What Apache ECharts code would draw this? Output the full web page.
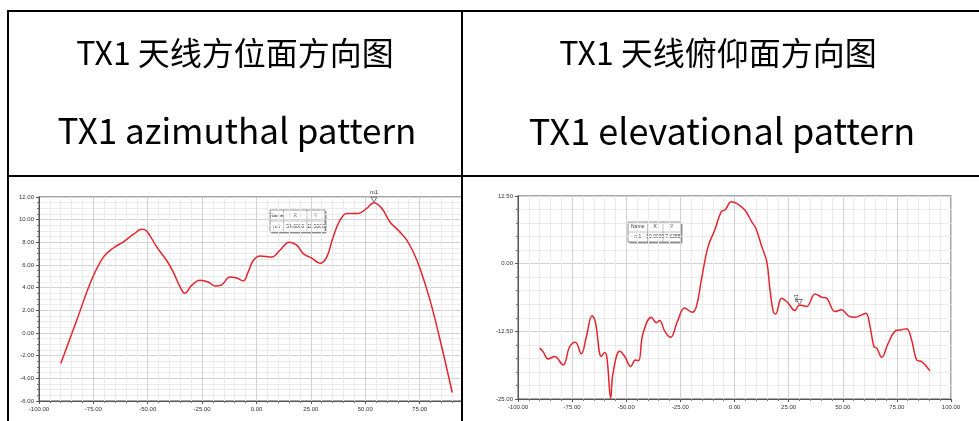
<!DOCTYPE html>
<html><head><meta charset="utf-8">
<script src="https://cdn.jsdelivr.net/npm/echarts@6/dist/echarts.min.js"></script>
<style>html,body{margin:0;padding:0;background:#fff}#c{width:979px;height:421px}</style>
</head><body><div id="c"></div>
<script>
// Header texts
const titlesCN = ['TX1 天线方位面方向图', 'TX1 天线俯仰面方向图'];
const titlesEN = ['TX1 azimuthal pattern', 'TX1 elevational pattern'];

// Azimuthal pattern (x: angle, y: gain)
const azX = [-90, -82.7, -75.8, -70.4, -65.8, -61.2, -56.6, -52.8, -50.5, -45.9, -41.3, -38.3, -35.2, -32.9, -29.8, -26, -22.2, -19.1, -16, -12.2, -9.1, -6.1, -3.8, -1.5, 1.6, 7.0, 10.8, 15.1, 18.5, 21.5, 25.4, 29.2, 32.3, 35.3, 38.4, 41.5, 46.8, 50.7, 54, 57.6, 61.4, 66, 69.1, 72.1, 75.2, 79.8, 84.4, 90];
const azY = [-2.7, 1.1, 4.7, 6.7, 7.5, 8.05, 8.7, 9.15, 9.0, 7.6, 6.4, 5.4, 4.1, 3.5, 4.2, 4.65, 4.5, 4.15, 4.25, 4.95, 4.85, 4.6, 5.4, 6.4, 6.8, 6.7, 7.3, 8.0, 7.75, 7.0, 6.6, 6.15, 6.7, 8.5, 9.95, 10.55, 10.55, 11.0, 11.5, 11.0, 9.8, 8.9, 8.2, 7.15, 5.7, 2.9, -0.6, -5.25];

// Elevational pattern
const elX = [-90, -88.5, -86.1, -83.1, -79.2, -76.1, -73.5, -70.8, -68.4, -65.8, -64.3, -61.5, -60, -58.9, -57.2, -56.1, -53, -50.7, -47.9, -45.8, -44.3, -42.3, -38.4, -36.1, -34.6, -32.2, -29.5, -26.4, -23, -19.6, -17.6, -15.3, -12.2, -9.1, -6.1, -4.2, -1.5, 1, 4.8, 7.9, 9.9, 12.6, 14.9, 16.4, 17.9, 19, 21.8, 24.8, 27.9, 30, 33.3, 37.2, 40.3, 42.6, 46.4, 49.5, 52.6, 55.7, 58.8, 60.7, 62.6, 64.4, 65.7, 68, 71, 74.6, 77.2, 79.5, 81.8, 84.2, 86.5, 90.3];
const elY = [-15.6, -16.2, -17.6, -17.15, -18.7, -15.3, -14.5, -16.65, -13.45, -9.6, -10.7, -17.15, -16.4, -17.45, -24.8, -20.2, -16.2, -17.15, -19.0, -17.8, -17.9, -12.96, -9.9, -10.9, -10.5, -12.5, -13.6, -10.7, -8.2, -8.96, -7.9, -3.0, 3.15, 6.23, 9.6, 10.0, 11.45, 11.15, 9.9, 7.76, 6.5, 3.15, 0.37, -4.85, -8.85, -9.3, -6.4, -7.3, -8.66, -7.63, -7.9, -5.6, -6.2, -6.4, -8.85, -8.53, -9.64, -9.9, -9.46, -9.15, -11.6, -15.3, -15.6, -17.3, -14.7, -12.35, -12.2, -12.0, -14.1, -17.8, -18.1, -19.8];

// Markers
const markerName = ['m1', 'm1'];
const markerX = [54.0, 30.0];
const markerY = [11.5, -7.6255];

function zip(a, b) { return a.map((v, i) => [v, b[i]]); }

const chart = echarts.init(document.getElementById('c'), null, {renderer: 'canvas'});

const lblFont = {fontSize: 6, color: '#333', fontFamily: 'Liberation Sans'};
function xAx(gi, max) {
  return {
    type: 'value', gridIndex: gi, min: -100, max: max, interval: 25,
    axisLine: {show: true, onZero: false, lineStyle: {color: '#555', width: 1}},
    axisTick: {show: true, length: 3, lineStyle: {color: '#555'}},
    minorTick: {show: true, splitNumber: 5, length: 2, lineStyle: {color: '#777'}},
    axisLabel: Object.assign({margin: 5, showMaxLabel: max === 100, formatter: v => v.toFixed(2)}, lblFont),
    splitLine: {show: true, lineStyle: {color: '#d2d2d2', width: 1}},
    minorSplitLine: {show: true, lineStyle: {color: '#ebebeb', width: 1}}
  };
}
function yAx(gi, min, max, interval, minorN) {
  return {
    type: 'value', gridIndex: gi, min: min, max: max, interval: interval,
    axisLine: {show: true, onZero: false, lineStyle: {color: '#555', width: 1}},
    axisTick: {show: true, length: 3, lineStyle: {color: '#555'}},
    minorTick: {show: true, splitNumber: minorN, length: 2, lineStyle: {color: '#777'}},
    axisLabel: Object.assign({margin: 5, formatter: v => v.toFixed(2)}, lblFont),
    splitLine: {show: true, lineStyle: {color: '#d2d2d2', width: 1}},
    minorSplitLine: {show: true, lineStyle: {color: '#ebebeb', width: 1}}
  };
}

function markPt(i, rotate) {
  return {
    symbol: 'triangle', symbolRotate: 180, symbolSize: [6, 5], symbolOffset: [0, -3],
    itemStyle: {color: '#fff', borderColor: '#555', borderWidth: 0.8},
    label: {show: true, formatter: markerName[i], position: 'top', distance: 1, fontSize: 6,
      color: '#333', fontFamily: 'Liberation Sans', rotate: rotate},
    data: [{coord: [markerX[i], markerY[i]]}]
  };
}

function markerTable(left, top, colW, rowH, i) {
  const rows = [['Name', 'X', 'Y'], [markerName[i], markerX[i].toFixed(4), markerY[i].toFixed(4)]];
  const children = [];
  const W = colW.reduce((a, b) => a + b, 0);
  children.push({type: 'rect', shape: {x: left + 1.5, y: top + 1.5, width: W, height: rowH * 2},
    style: {fill: '#9a9a9a'}});
  children.push({type: 'rect', shape: {x: left, y: top, width: W, height: rowH * 2},
    style: {fill: '#fff', stroke: '#777', lineWidth: 0.8}});
  children.push({type: 'line', shape: {x1: left, y1: top + rowH, x2: left + W, y2: top + rowH},
    style: {stroke: '#999', lineWidth: 0.6}});
  let cx = left;
  colW.forEach((w, c) => {
    if (c > 0) children.push({type: 'line', shape: {x1: cx, y1: top, x2: cx, y2: top + rowH * 2},
      style: {stroke: '#999', lineWidth: 0.6}});
    rows.forEach((r, ri) => {
      children.push({type: 'text', style: {text: r[c], x: cx + w / 2, y: top + rowH * ri + rowH / 2,
        align: 'center', verticalAlign: 'middle', fontSize: 5, fill: '#333', fontFamily: 'Liberation Sans Narrow, Liberation Sans'}});
    });
    cx += w;
  });
  return {type: 'group', z: 50, children: children};
}

const graphics = [];
// header texts
[235, 718].forEach((cx, i) => {
  graphics.push({type: 'text', z: 60, style: {text: titlesCN[i], x: cx, y: 53, align: 'center',
    verticalAlign: 'middle', fontSize: 32, fill: '#000', fontFamily: 'Noto Sans CJK SC'}});
  graphics.push({type: 'text', z: 60, style: {text: titlesEN[i], x: cx + (i ? 4 : 2), y: 131, align: 'center',
    verticalAlign: 'middle', fontSize: i ? 36 : 35, fill: '#000', fontFamily: 'Noto Sans CJK SC'}});
});
// table borders
const B = '#000';
graphics.push({type: 'rect', z: 70, shape: {x: 7, y: 10, width: 972, height: 2}, style: {fill: B}});
graphics.push({type: 'rect', z: 70, shape: {x: 7, y: 10, width: 2, height: 411}, style: {fill: B}});
graphics.push({type: 'rect', z: 70, shape: {x: 461, y: 10, width: 2, height: 411}, style: {fill: B}});
graphics.push({type: 'rect', z: 70, shape: {x: 7, y: 175, width: 972, height: 2}, style: {fill: B}});
// marker tables
graphics.push(markerTable(270, 210, [13.5, 23.5, 18], 11, 0));
graphics.push(markerTable(628, 222, [19.5, 15.5, 18], 10, 1));

chart.setOption({
  animation: false,
  backgroundColor: '#fff',
  grid: [
    {left: 39, top: 197, width: 423, height: 204, show: true, borderColor: '#8a8a8a', borderWidth: 1.5},
    {left: 518, top: 196, width: 433, height: 203, show: true, borderColor: '#8a8a8a', borderWidth: 1.5}
  ],
  xAxis: [xAx(0, 94.5), xAx(1, 100)],
  yAxis: [yAx(0, -6, 12, 2, 4), yAx(1, -25, 12.5, 12.5, 5)],
  series: [
    {type: 'line', xAxisIndex: 0, yAxisIndex: 0, data: zip(azX, azY), smooth: 0.4, showSymbol: false,
      lineStyle: {color: '#e3262d', width: 1.5}, markPoint: markPt(0, 0)},
    {type: 'line', xAxisIndex: 1, yAxisIndex: 1, data: zip(elX, elY), smooth: 0.4, showSymbol: false,
      lineStyle: {color: '#e3262d', width: 1.5}, markPoint: markPt(1, 90)}
  ],
  graphic: graphics
});
</script></body></html>
